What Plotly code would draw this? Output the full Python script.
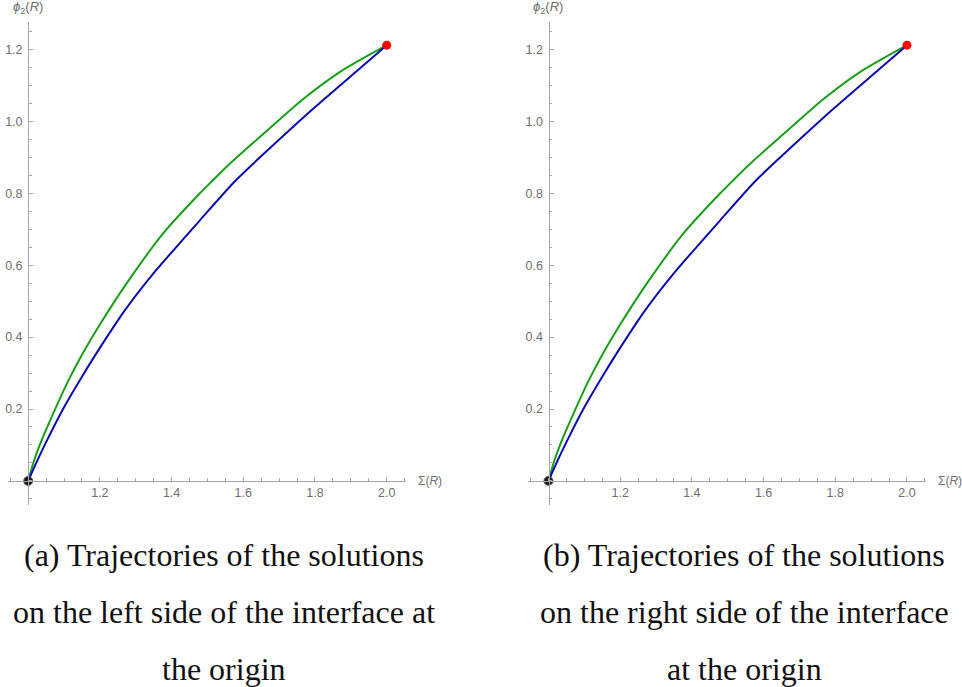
import plotly.graph_objects as go

W, H = 962, 687

# ---- data ----
green_x = [1.0, 1.014, 1.035, 1.07, 1.112, 1.154, 1.2, 1.275, 1.377, 1.479, 1.516, 1.563, 1.65, 1.763, 1.87, 2.0]
green_y = [0.0, 0.049, 0.107, 0.188, 0.279, 0.358, 0.435, 0.55, 0.689, 0.80, 0.837, 0.883, 0.96, 1.059, 1.138, 1.212]

blue_x = [1.0, 1.02, 1.05, 1.1, 1.15, 1.2, 1.27, 1.35, 1.48, 1.58, 1.79, 1.92, 2.0]
blue_y = [0.0, 0.045, 0.108, 0.205, 0.29, 0.37, 0.475, 0.578, 0.726, 0.837, 1.031, 1.143, 1.212]

start_point = (1.0, 0.0)
end_point = (2.0, 1.212)

x_tickvals = [1.2, 1.4, 1.6, 1.8, 2.0]
x_ticktext = ["1.2", "1.4", "1.6", "1.8", "2.0"]
y_tickvals = [0.2, 0.4, 0.6, 0.8, 1.0, 1.2]
y_ticktext = ["0.2", "0.4", "0.6", "0.8", "1.0", "1.2"]

captions = [
    ["(a) Trajectories of the solutions", "on the left side of the interface at", "the origin"],
    ["(b) Trajectories of the solutions", "on the right side of the interface", "at the origin"],
]

# ---- layout helpers ----
def px(x):
    return x / W

def py(y):
    return (H - y) / H

AX_COL = "#a6a6a6"
LBL_COL = "#6e6e6e"
GREEN = "#17a017"
BLUE = "#0b0bb0"

x_range = [0.9437, 2.0539]
y_range = [-0.067, 1.2765]
panel_left = [8.0, 528.3]        # left pixel of each panel
panel_w = 398.0
origin_px = [28.2, 548.5]
caption_cx = [224, 744]

fig = go.Figure()
layout = dict(
    width=W, height=H,
    margin=dict(l=0, r=0, t=0, b=0),
    paper_bgcolor="white", plot_bgcolor="white",
    showlegend=False,
    font=dict(family="Liberation Sans, Arial, sans-serif", color=LBL_COL, size=12.5),
)
annotations = []

for i in range(2):
    xa = "x" if i == 0 else "x2"
    ya = "y" if i == 0 else "y2"
    fig.add_trace(go.Scatter(x=green_x, y=green_y, mode="lines",
                             line=dict(color=GREEN, width=2, shape="spline", smoothing=0.6),
                             xaxis=xa, yaxis=ya))
    fig.add_trace(go.Scatter(x=blue_x, y=blue_y, mode="lines",
                             line=dict(color=BLUE, width=2, shape="spline", smoothing=0.6),
                             xaxis=xa, yaxis=ya))
    fig.add_trace(go.Scatter(x=[start_point[0]], y=[start_point[1]], mode="markers",
                             marker=dict(color="#1a1a1a", size=9, line=dict(color="#555", width=1)),
                             xaxis=xa, yaxis=ya, cliponaxis=False))
    fig.add_trace(go.Scatter(x=[end_point[0]], y=[end_point[1]], mode="markers",
                             marker=dict(color="#ff0000", size=9),
                             xaxis=xa, yaxis=ya, cliponaxis=False))

    xkey = "xaxis" if i == 0 else "xaxis2"
    ykey = "yaxis" if i == 0 else "yaxis2"
    layout[xkey] = dict(
        domain=[px(panel_left[i]), px(panel_left[i] + panel_w)],
        range=x_range, anchor="free", position=py(480.9),
        showline=True, linecolor=AX_COL, linewidth=1.3,
        showgrid=False, zeroline=False,
        tickmode="array", tickvals=x_tickvals, ticktext=x_ticktext,
        ticks="inside", ticklen=4, tickcolor=AX_COL, tickwidth=1,
        tickfont=dict(color=LBL_COL, size=12.5),
        minor=dict(dtick=0.05, tick0=0, ticks="inside", ticklen=2.5, tickcolor=AX_COL, showgrid=False),
    )
    layout[ykey] = dict(
        domain=[py(505), py(22)],
        range=y_range, anchor="free", position=px(origin_px[i]),
        showline=True, linecolor=AX_COL, linewidth=1.3,
        showgrid=False, zeroline=False,
        tickmode="array", tickvals=y_tickvals, ticktext=y_ticktext,
        ticks="inside", ticklen=4, tickcolor=AX_COL, tickwidth=1,
        tickfont=dict(color=LBL_COL, size=12.5),
        ticklabelstandoff=3,
        minor=dict(dtick=0.05, tick0=0, ticks="inside", ticklen=2.5, tickcolor=AX_COL, showgrid=False),
    )

    # axis labels
    annotations.append(dict(
        text="<i>ϕ</i><sub>2</sub>(<i>R</i>)", xref="paper", yref="paper",
        x=px(panel_left[i] + 3), y=py(8), xanchor="left", yanchor="middle",
        showarrow=False, font=dict(size=13, color=LBL_COL)))
    annotations.append(dict(
        text="Σ(<i>R</i>)", xref="paper", yref="paper",
        x=px(panel_left[i] + 408), y=py(481), xanchor="left", yanchor="middle",
        showarrow=False, font=dict(size=12, color=LBL_COL)))

    # captions
    for j, line in enumerate(captions[i]):
        annotations.append(dict(
            text=line, xref="paper", yref="paper",
            x=px(caption_cx[i]), y=py(555 + 57 * j), xanchor="center", yanchor="middle",
            showarrow=False,
            font=dict(family="Liberation Serif, Times New Roman, serif", size=32, color="#111")))

layout["annotations"] = annotations
fig.update_layout(**layout)
fig.write_html("out.html",
               config={"displayModeBar": False},
               post_script="document.body.style.margin='0px';document.body.style.overflow='hidden';")
